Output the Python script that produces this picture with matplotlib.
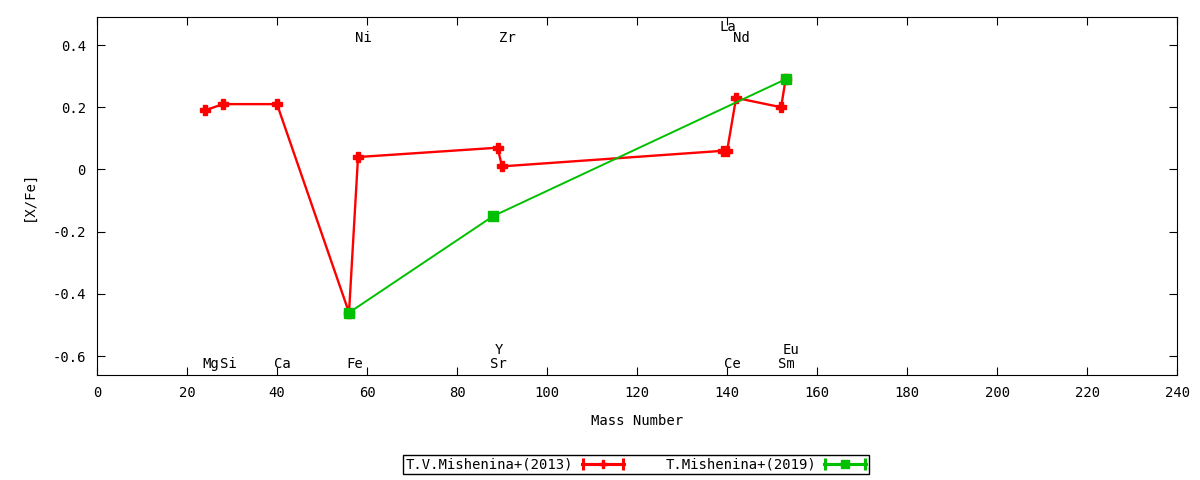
import matplotlib
matplotlib.use('Agg')
import matplotlib.pyplot as plt
from matplotlib.legend_handler import HandlerErrorbar
import numpy as np

# [X/Fe] against mass number, two sources
red_A = [24, 28, 40, 56, 58, 89, 90, 139, 140, 142, 152, 153]
red_X = [0.19, 0.21, 0.21, -0.46, 0.04, 0.07, 0.01, 0.06, 0.06, 0.23, 0.20, 0.29]
green_A = [56, 88, 153]
green_X = [-0.46, -0.15, 0.29]

# element labels: name, mass number, height
elem_names = ['Mg', 'Si', 'Ca', 'Fe', 'Ni', 'Sr', 'Y', 'Zr', 'La', 'Ce', 'Nd', 'Sm', 'Eu']
elem_A = [24, 28, 40, 56, 58, 88, 89, 90, 139, 140, 142, 152, 153]
elem_y = [-0.624, -0.624, -0.624, -0.624, 0.421, -0.624, -0.579, 0.421, 0.457, -0.624, 0.421, -0.624, -0.579]

plt.rcParams['font.family'] = ['DejaVu Sans Mono']
plt.rcParams['font.size'] = 10

fig = plt.figure(figsize=(12, 4.8), dpi=100)
ax = fig.add_axes([0.0808, 0.219, 0.9002, 0.7456])

ax.plot(red_A, red_X, '-', color='#ff0000', lw=1.7, marker='P', ms=7.5, zorder=3)
ax.plot(green_A, green_X, '-', color='#00c000', lw=1.4, marker='s', ms=7, zorder=4)

for name, a, y in zip(elem_names, elem_A, elem_y):
    ax.text(a - 0.6, y, name, ha='left', va='center', fontsize=10)

ax.set_xlim(0, 240)
ax.set_ylim(-0.66, 0.49)
ax.set_xticks(np.arange(0, 241, 20))
ax.set_yticks([-0.6, -0.4, -0.2, 0, 0.2, 0.4])
ax.set_yticklabels(['-0.6', '-0.4', '-0.2', '0', '0.2', '0.4'])
ax.tick_params(direction='in', top=True, right=True, length=6, pad=8)
ax.set_xlabel('Mass Number', labelpad=10)
ax.set_ylabel('[X/Fe]', labelpad=12)

# legend samples styled like gnuplot keys
h1 = ax.errorbar([np.nan], [np.nan], xerr=[1], fmt='-P', color='#ff0000', lw=2.2,
                 ms=6, capsize=4, elinewidth=2.2, capthick=2.2)
h2 = ax.errorbar([np.nan], [np.nan], xerr=[1], fmt='-s', color='#00c000', lw=2.2,
                 ms=5.5, capsize=4, elinewidth=2.2, capthick=2.2)
leg = fig.legend([h1, h2], ['T.V.Mishenina+(2013)', 'T.Mishenina+(2019)'],
                 loc='center', bbox_to_anchor=(0.53, 0.032), ncol=2,
                 markerfirst=False, fancybox=False, edgecolor='black',
                 framealpha=1, handlelength=3, columnspacing=3,
                 borderpad=0.2, handletextpad=0.6, borderaxespad=0,
                 handler_map={type(h1): HandlerErrorbar(xerr_size=1.45)})
leg.get_frame().set_linewidth(1)

fig.savefig('out.png')
